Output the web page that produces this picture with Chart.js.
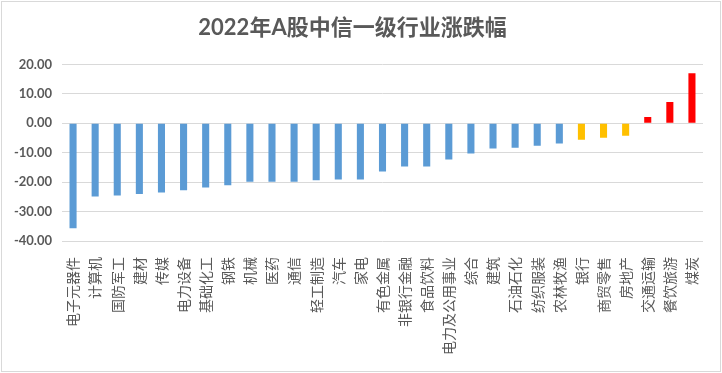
<!DOCTYPE html>
<html>
<head>
<meta charset="utf-8">
<script src="https://cdn.jsdelivr.net/npm/chart.js@4.4.1/dist/chart.umd.min.js"></script>
<style>
  html, body { margin: 0; padding: 0; background: #fff; }
  #wrap { width: 722px; height: 373px; }
</style>
</head>
<body>
<div id="wrap"><canvas id="myChart" width="722" height="373"></canvas></div>
<script>
// 行业名称
const industrias = ['电子元器件', '计算机', '国防军工', '建材', '传媒', '电力设备', '基础化工', '钢铁',
  '机械', '医药', '通信', '轻工制造', '汽车', '家电', '有色金属', '非银行金融', '食品饮料',
  '电力及公用事业', '综合', '建筑', '石油石化', '纺织服装', '农林牧渔', '银行', '商贸零售',
  '房地产', '交通运输', '餐饮旅游', '煤炭'];

// 2022年涨跌幅 (%)
const cambios = [-35.7, -24.9, -24.5, -24.0, -23.5, -22.8, -21.8, -21.1,
  -19.9, -19.9, -19.9, -19.4, -19.1, -19.1, -16.4, -14.7, -14.7,
  -12.3, -10.3, -8.6, -8.3, -7.6, -6.9, -5.6, -4.9,
  -4.2, 2.1, 7.2, 17.0];

// 颜色分组
const grupoAmarillo = ['银行', '商贸零售', '房地产'];
const grupoRojo = ['交通运输', '餐饮旅游', '煤炭'];

const ticksY = [20, 10, 0, -10, -20, -30, -40];

const colores = industrias.map(nombre => {
  if (grupoRojo.includes(nombre)) return '#FF0000';
  if (grupoAmarillo.includes(nombre)) return '#FFC000';
  return '#5B9BD5';
});

// 外框
const marco = {
  id: 'marco',
  afterDraw(chart) {
    const ctx = chart.ctx;
    ctx.save();
    ctx.strokeStyle = '#d9d9d9';
    ctx.lineWidth = 1;
    ctx.strokeRect(1.5, 1.5, 719, 370);
    ctx.restore();
  }
};

const ctx = document.getElementById('myChart');

new Chart(ctx, {
  type: 'bar',
  data: {
    labels: industrias,
    datasets: [{
      label: '涨跌幅',
      data: cambios,
      backgroundColor: colores,
      barPercentage: 0.32,
      categoryPercentage: 1
    }]
  },
  options: {
    responsive: false,
    animation: false,
    layout: { padding: { top: 2, left: 2, right: 19, bottom: 0 } },
    plugins: {
      legend: { display: false },
      tooltip: { enabled: false },
      title: {
        display: true,
        text: '2022年A股中信一级行业涨跌幅',
        color: '#595959',
        font: { family: "Lato, 'Noto Sans CJK SC'", size: 22, weight: 'bold' },
        padding: { top: 13, bottom: 23 }
      }
    },
    scales: {
      x: {
        grid: { display: false },
        border: { display: false },
        ticks: {
          autoSkip: false,
          maxRotation: 90,
          minRotation: 90,
          padding: 8,
          color: '#595959',
          font: { family: "'Noto Sans CJK SC'", size: 14 }
        },
        afterFit: s => { s.height = 132; }
      },
      y: {
        min: -40,
        max: 20,
        afterBuildTicks: s => { s.ticks = ticksY.map(v => ({ value: v })); },
        grid: { color: '#d9d9d9', drawTicks: false },
        border: { display: false },
        ticks: {
          padding: 10,
          color: '#595959',
          font: { family: 'Lato', size: 13, weight: 'bold' },
          callback: v => Number(v).toFixed(2)
        },
        afterFit: s => { s.width = 60; }
      }
    }
  },
  plugins: [marco]
});
</script>
</body>
</html>
